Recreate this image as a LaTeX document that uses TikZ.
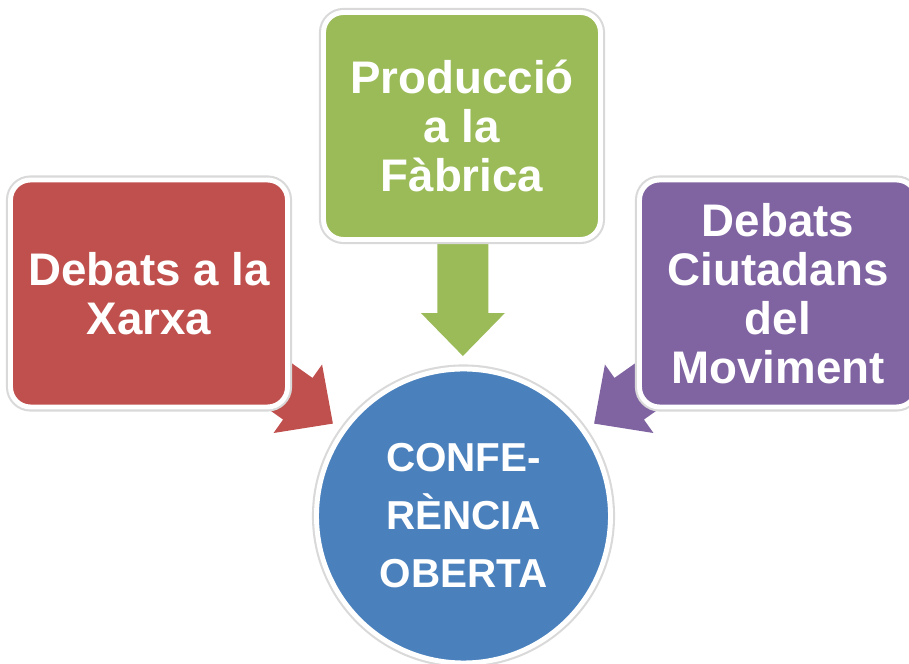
\documentclass[tikz,border=0pt]{standalone}
\usepackage{fontspec}
\setmainfont{Liberation Sans}
\usetikzlibrary{calc,backgrounds}

\begin{document}
\begin{tikzpicture}[thick,
    box/.style={rounded corners=0.2cm, minimum width=2.77cm, minimum height=2.27cm,
      inner sep=0pt, align=center, text=white,
      font=\fontsize{13}{14}\selectfont\bfseries,
      draw=white, line width=1.4pt, preaction={draw=black!15, line width=2.6pt}},
    hub/.style={circle, minimum size=2.94cm, inner sep=0pt, align=center, text=white,
      font=\fontsize{11.5}{16.5}\selectfont\bfseries,
      draw=white, line width=1.4pt, preaction={draw=black!15, line width=2.6pt}}]
    \definecolor{reda}{HTML}{C0504D}
    \definecolor{greena}{HTML}{9BBB59}
    \definecolor{purplea}{HTML}{8064A2}
    \definecolor{bluea}{HTML}{4A81BD}
    \useasboundingbox (0,0) rectangle (9.09,6.64);
    \node[box, fill=reda] (xarxa) at (1.49,3.705) {Debats a la\\Xarxa};
    \node[box, fill=greena] (fabrica) at (4.62,5.38) {Producció\\a la\\Fàbrica};
    \node[box, fill=purplea] (moviment) at (7.78,3.705) {Debats\\Ciutadans\\del\\Moviment};
    \node[hub, fill=bluea] (conf) at (4.635,1.48) {CONFE-\\RÈNCIA\\OBERTA};
    % block arrows towards the circle
    \begin{pgfonlayer}{background}
    \foreach \b/\c/\a in {xarxa/reda/-35.3, fabrica/greena/-90, moviment/purplea/-144.7}
      \fill[\c, shift={($(conf.center)!1.6cm!(\b.center)$)}, rotate=\a]
        (0,0) -- (-0.43,0.42) -- (-0.43,0.255) -- (-1.3,0.255)
        -- (-1.3,-0.255) -- (-0.43,-0.255) -- (-0.43,-0.42) -- cycle;
    \end{pgfonlayer}
\end{tikzpicture}
\end{document}
